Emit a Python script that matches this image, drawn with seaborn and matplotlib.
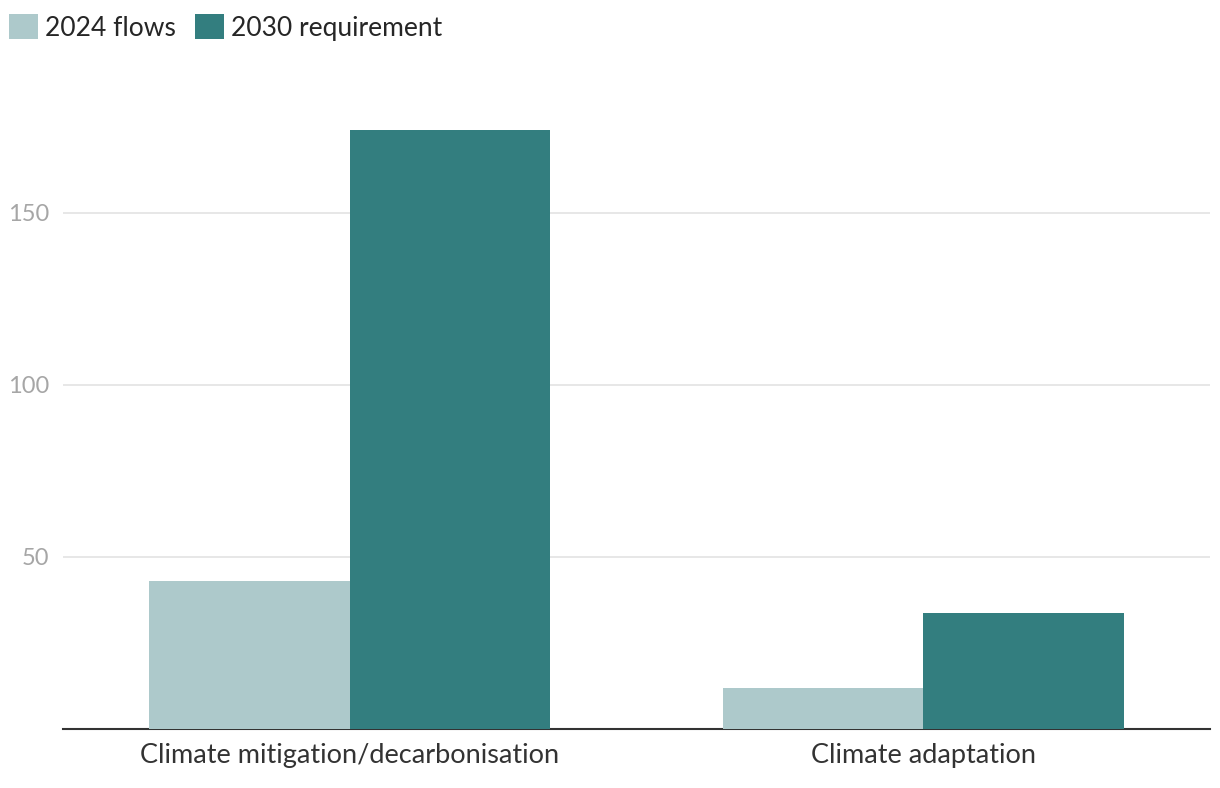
import pandas as pd
import seaborn as sns
from matplotlib import pyplot as plt
from matplotlib.patches import Patch

categories = ["Climate mitigation/decarbonisation", "Climate adaptation"]
flows_2024 = [43, 12]
requirement_2030 = [174, 33.7]
series = ["2024 flows", "2030 requirement"]
colors = ["#adc9cb", "#337e7f"]

df = pd.DataFrame({
    "category": categories * 2,
    "series": [series[0]] * 2 + [series[1]] * 2,
    "value": flows_2024 + requirement_2030,
})

sns.set_theme(style="white")
plt.rcParams['font.family'] = ['Lato', 'DejaVu Sans']

fig = plt.figure(figsize=(12.2, 7.88), dpi=100)
ax = fig.add_axes([63 / 1220, 1 - 729 / 788, 1147 / 1220, (729 - 75) / 788])

sns.barplot(data=df, x="category", y="value", hue="series", palette=colors,
            width=0.7, saturation=1, ax=ax, legend=False, zorder=3,
            edgecolor="none", linewidth=0)

ax.set_xlim(-0.5, 1.5)
ax.set_ylim(0, 190)
ax.set_yticks([50, 100, 150])
ax.yaxis.grid(True, color="#e3e3e3", linewidth=1.2, zorder=0)
ax.set_axisbelow(True)
for s in ["top", "right", "left"]:
    ax.spines[s].set_visible(False)
ax.spines["bottom"].set_color("#333333")
ax.spines["bottom"].set_linewidth(1.5)
ax.set_xlabel("")
ax.set_ylabel("")
ax.tick_params(axis="y", length=0, labelsize=17, labelcolor="#a6a6a6", pad=10)
ax.tick_params(axis="x", length=0, labelsize=19.5, labelcolor="#333333", pad=10)

handles = [Patch(facecolor=c, edgecolor="none") for c in colors]
fig.legend(handles, series, loc="upper left", bbox_to_anchor=(9 / 1220, 1 - 14 / 788), ncol=2,
           frameon=False, fontsize=19, handlelength=1.1, handleheight=1.1,
           handletextpad=0.25, columnspacing=0.75, borderaxespad=0, borderpad=0)

fig.savefig("out.png", dpi=100)
